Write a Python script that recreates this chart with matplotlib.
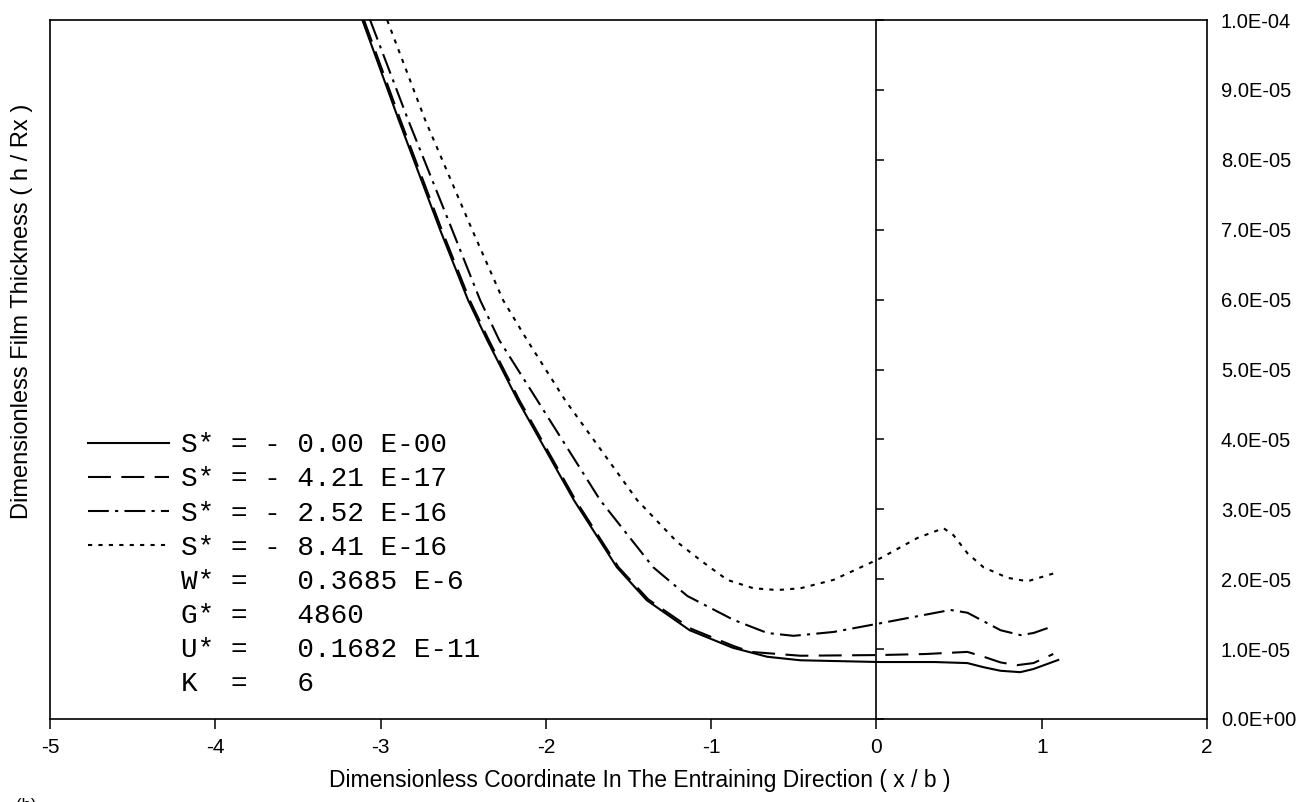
import matplotlib
matplotlib.use('Agg')
from matplotlib import pyplot as plt
from matplotlib.lines import Line2D
from matplotlib.ticker import FuncFormatter, MultipleLocator

plt.rcParams['axes.unicode_minus'] = False

# film thickness h/Rx (values in units of 1E-05) vs x/b
x_s0 = [-3.11, -2.89, -2.64, -2.47, -2.355, -2.17, -1.83, -1.57, -1.39, -1.13, -0.87, -0.66, -0.46,
        0.02, 0.35, 0.55, 0.65, 0.75, 0.87, 0.95, 1.10]
h_s0 = [10.0, 8.57, 7.00, 5.99, 5.42, 4.56, 3.13, 2.17, 1.70, 1.27, 1.02, 0.89, 0.84,
        0.815, 0.815, 0.80, 0.74, 0.69, 0.67, 0.715, 0.845]

x_s1 = [-3.10, -2.88, -2.63, -2.46, -2.345, -2.16, -1.82, -1.56, -1.38, -1.12, -0.86, -0.76, -0.46,
        0.02, 0.30, 0.55, 0.65, 0.75, 0.85, 0.95, 1.07]
h_s1 = [10.0, 8.57, 7.00, 5.99, 5.42, 4.56, 3.13, 2.17, 1.71, 1.29, 1.04, 0.96, 0.905,
        0.915, 0.93, 0.96, 0.89, 0.81, 0.77, 0.80, 0.93]

x_s2 = [-3.063, -2.833, -2.567, -2.397, -2.282, -2.052, -1.671, -1.35, -1.144, -0.866, -0.66, -0.502,
        -0.26, 0.024, 0.448, 0.551, 0.751, 0.872, 0.95, 1.071]
h_s2 = [10.0, 8.57, 7.00, 5.99, 5.42, 4.56, 3.13, 2.17, 1.76, 1.42, 1.23, 1.19,
        1.245, 1.37, 1.56, 1.52, 1.27, 1.20, 1.23, 1.33]

x_s3 = [-2.96, -2.73, -2.446, -2.258, -2.113, -1.883, -1.447, -1.205, -1.053, -0.902, -0.744, -0.60,
        -0.46, -0.26, 0.024, 0.248, 0.406, 0.466, 0.551, 0.648, 0.793, 0.914, 1.096]
h_s3 = [10.0, 8.57, 7.00, 5.99, 5.42, 4.56, 3.13, 2.53, 2.25, 1.99, 1.87, 1.845,
        1.87, 1.99, 2.30, 2.59, 2.73, 2.63, 2.37, 2.17, 2.02, 1.97, 2.10]

labels = ['S* = - 0.00 E-00', 'S* = - 4.21 E-17', 'S* = - 2.52 E-16', 'S* = - 8.41 E-16']
extra = ['W* =   0.3685 E-6', 'G* =   4860', 'U* =   0.1682 E-11', 'K  =   6']

unit = 1e-5
sans = ['Liberation Sans', 'DejaVu Sans']

fig = plt.figure(figsize=(13.11, 8.02), dpi=100)
ax = fig.add_axes([0.0381, 0.1035, 0.8826, 0.8715])
ax2 = ax.twinx()

lw = 1.5
l0, = ax.plot(x_s0, [v * unit for v in h_s0], color='k', lw=lw, ls='-')
l1, = ax.plot(x_s1, [v * unit for v in h_s1], color='k', lw=lw, ls=(0, (11, 5)))
l2, = ax.plot(x_s2, [v * unit for v in h_s2], color='k', lw=lw, ls=(0, (10, 3, 1.5, 3)))
l3, = ax.plot(x_s3, [v * unit for v in h_s3], color='k', lw=lw, ls=(0, (2, 3)))

ax.set_xlim(-5, 2)
ax.set_ylim(0, 1e-4)
for s in ax.spines.values():
    s.set_linewidth(1.2)

ax.xaxis.set_major_locator(MultipleLocator(1))
ax.tick_params(axis='x', direction='out', length=7, width=1.1, pad=7, labelsize=15)
ax.yaxis.set_major_locator(MultipleLocator(1e-5))
ax.yaxis.set_major_formatter(FuncFormatter(lambda v, p: '%.1E' % v))
ax.yaxis.tick_right()
ax.tick_params(axis='y', left=False, right=True, labelleft=False, labelright=True,
               length=0, pad=10, labelsize=14.5)
for t in ax.get_xticklabels() + ax.get_yticklabels():
    t.set_family(sans)

# y axis drawn through x = 0, ticks pointing right
ax2.set_ylim(0, 1e-4)
for k in ['top', 'bottom', 'right']:
    ax2.spines[k].set_visible(False)
ax2.spines['left'].set_visible(True)
ax2.spines['left'].set_position(('data', 0))
ax2.spines['left'].set_linewidth(1.2)
ax2.yaxis.tick_left()
ax2.yaxis.set_major_locator(MultipleLocator(1e-5))
ax2.tick_params(axis='y', direction='in', length=6, width=1.1, labelleft=False, labelright=False)

ax.set_xlabel('Dimensionless Coordinate In The Entraining Direction ( x / b )',
              family=sans, fontsize=16.5, labelpad=10)
ax.xaxis.set_label_coords(0.51, -0.072)
fig.text(0.017, 0.612, 'Dimensionless Film Thickness ( h / Rx )', rotation=90,
         ha='center', va='center', family=sans, fontsize=17)

blank = [Line2D([], [], ls='none') for _ in extra]
ax2.legend([l0, l1, l2, l3] + blank, labels + extra, loc='upper left',
           bbox_to_anchor=(0.033, 0.41), frameon=False,
           prop={'family': 'Liberation Mono', 'size': 20},
           handlelength=2.9, handletextpad=0.45, labelspacing=0.29,
           borderpad=0, borderaxespad=0)

fig.text(0.012, -0.004, '(b)', fontsize=12, va='center', family=sans)

fig.savefig('out.png', dpi=100)
